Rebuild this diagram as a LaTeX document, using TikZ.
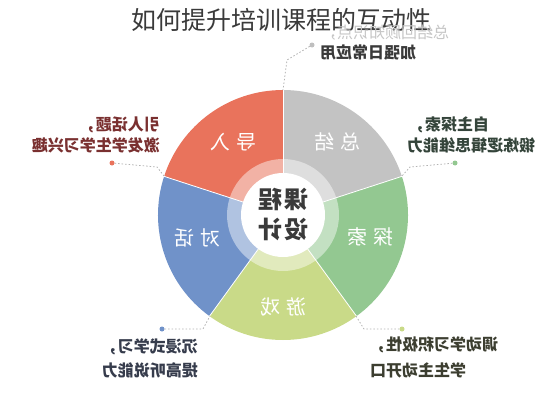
\documentclass[tikz,border=0pt]{standalone}
\usepackage{fontspec}
\usepackage{graphicx}
\newfontfamily\cjk{Noto Sans CJK SC}
\definecolor{cRed}{HTML}{E9735C}
\definecolor{cGray}{HTML}{C3C3C3}
\definecolor{cGreen}{HTML}{93C891}
\definecolor{cYellow}{HTML}{C9DA88}
\definecolor{cBlue}{HTML}{7092C9}
\definecolor{tRed}{HTML}{7A3030}
\definecolor{tGreen}{HTML}{34443A}
\definecolor{tBlue}{HTML}{363C4C}
\definecolor{tOlive}{HTML}{3C3E30}
\definecolor{tDark}{HTML}{3A3A3A}
\tikzset{
  seglabel/.style={text=white, font=\cjk\fontsize{20}{24}\selectfont, inner sep=0pt},
  outlabel/.style={font=\cjk\bfseries\fontsize{16}{20}\selectfont, inner sep=0pt},
  leader/.style={draw=gray!60, dash pattern=on 1.5pt off 2pt, line width=0.8pt},
  dotnode/.style={circle, inner sep=0pt, minimum size=5pt},
}
\begin{document}
\begin{tikzpicture}[x=1pt,y=1pt]
\useasboundingbox (0,0) rectangle (553,400);
\coordinate (C) at (283,185);
% segments
\fill[cRed]    (C) -- ++(90:125)  arc[start angle=90, end angle=162, radius=125] -- cycle;
\fill[cGray]   (C) -- ++(18:125)  arc[start angle=18, end angle=90, radius=125] -- cycle;
\fill[cGreen]  (C) -- ++(-54:125) arc[start angle=-54, end angle=18, radius=125] -- cycle;
\fill[cYellow] (C) -- ++(-126:125) arc[start angle=-126, end angle=-54, radius=125] -- cycle;
\fill[cBlue]   (C) -- ++(162:125) arc[start angle=162, end angle=234, radius=125] -- cycle;
\foreach \a in {90,18,-54,-126,162} \draw[white, line width=0.8pt] (C) -- ++(\a:125);
% ring and centre
\fill[white, opacity=0.45] (C) circle[radius=56];
\fill[white] (C) circle[radius=42];
\node[font=\cjk\bfseries\fontsize{24}{30}\selectfont, text=tDark, align=center, inner sep=0pt] (centre) at (C) {\reflectbox{课\hspace{2pt}程}\\\reflectbox{设\hspace{2pt}计}};
% segment labels
\node[seglabel] (s1) at (233,258) {\reflectbox{导\hspace{6pt}入}};
\node[seglabel] (s2) at (337,258) {\reflectbox{总\hspace{6pt}结}};
\node[seglabel] (s3) at (370,163) {\reflectbox{探\hspace{6pt}索}};
\node[seglabel] (s4) at (283,93)  {\reflectbox{游\hspace{6pt}戏}};
\node[seglabel] (s5) at (197,162) {\reflectbox{对\hspace{6pt}话}};
% title
\node[font=\cjk\fontsize{25}{30}\selectfont, text=tDark, inner sep=0pt] (title) at (281,380) {如何提升培训课程的互动性};
% top block
\node[outlabel, anchor=west, text=gray!45, font=\cjk\fontsize{16}{20}\selectfont] (t1) at (321,367) {\reflectbox{总结回顾知识点，}};
\node[outlabel, anchor=west, text=tDark] (t2) at (320,348) {\reflectbox{加强日常应用}};
\node[dotnode, fill=gray!50] (d1) at (312,355) {};
\coordinate (e1) at (283,310);
\draw[leader] (d1) -- (287,340) -- (e1);
% left top block
\node[outlabel, anchor=east, text=tRed] (l1) at (160,275) {\reflectbox{引人话题，}};
\node[outlabel, anchor=east, text=tRed] (l2) at (160,255) {\reflectbox{激发学生学习兴趣}};
\node[dotnode, fill=cRed] (d2) at (112,237) {};
\coordinate (e2) at (164,224);
\draw[leader] (d2) -- (157,233) -- (e2);
% right top block
\node[outlabel, anchor=west, text=tGreen] (r1) at (409,275) {\reflectbox{自主探索，}};
\node[outlabel, anchor=west, text=tGreen] (r2) at (407,255) {\reflectbox{锻炼逻辑思维能力}};
\node[dotnode, fill=cGreen] (d3) at (455,237) {};
\coordinate (e3) at (402,224);
\draw[leader] (d3) -- (410,233) -- (e3);
% bottom left block
\node[outlabel, anchor=east, text=tBlue] (b1) at (198,53) {\reflectbox{沉浸式学习，}};
\node[outlabel, anchor=east, text=tBlue] (b2) at (198,30) {\reflectbox{提高听说能力}};
\node[dotnode, fill=cBlue] (d4) at (162,71) {};
\coordinate (e4) at (210,84);
\draw[leader] (d4) -- (203,71) -- (e4);
% bottom right block
\node[outlabel, anchor=west, text=tOlive] (c1) at (370,55) {\reflectbox{调动学习积极性，}};
\node[outlabel, anchor=west, text=tOlive] (c2) at (370,30) {\reflectbox{学生主动开口}};
\node[dotnode, fill=cYellow] (d5) at (402,71) {};
\coordinate (e5) at (356,84);
\draw[leader] (d5) -- (364,71) -- (e5);
\end{tikzpicture}
\end{document}
